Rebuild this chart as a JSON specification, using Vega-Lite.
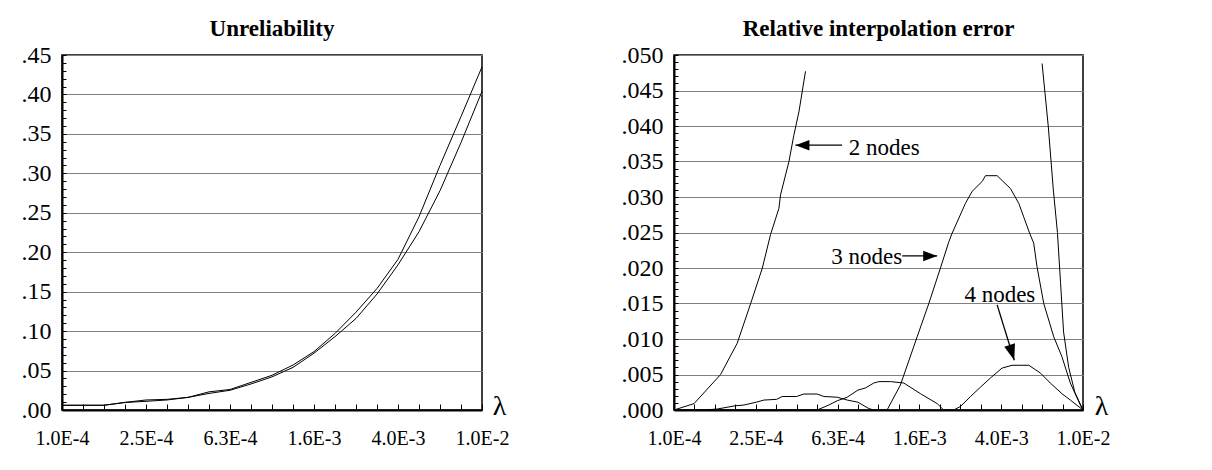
{
  "$schema": "https://vega.github.io/schema/vega-lite/v6.json",
  "background": "white",
  "padding": {"left": 20, "top": 17, "right": 5, "bottom": 5},
  "config": {
    "font": "Liberation Serif",
    "view": {"stroke": "black", "strokeWidth": 1.5},
    "axis": {
      "labelFont": "Liberation Serif", "labelFontSize": 20, "labelColor": "black",
      "domainColor": "black", "tickColor": "black", "titleColor": "black",
      "titleFont": "Liberation Serif", "labelOverlap": false, "labelBound": false
    },
    "title": {"font": "Liberation Serif", "fontSize": 23, "fontWeight": "bold", "color": "black", "frame": "group", "anchor": "middle", "offset": 2},
    "concat": {"spacing": 110}
  },
  "datasets": {
    "unrel": [
      {"x": 0.0001, "y": 0.006, "series": "a"}, {"x": 0.00012589, "y": 0.006, "series": "a"}, {"x": 0.00015849, "y": 0.006, "series": "a"},
      {"x": 0.00019953, "y": 0.0097, "series": "a"}, {"x": 0.00025119, "y": 0.0127, "series": "a"}, {"x": 0.00031623, "y": 0.0135, "series": "a"},
      {"x": 0.00039811, "y": 0.016, "series": "a"}, {"x": 0.00050119, "y": 0.023, "series": "a"}, {"x": 0.00063096, "y": 0.026, "series": "a"},
      {"x": 0.00079433, "y": 0.035, "series": "a"}, {"x": 0.001, "y": 0.044, "series": "a"}, {"x": 0.0012589, "y": 0.057, "series": "a"},
      {"x": 0.0015849, "y": 0.074, "series": "a"}, {"x": 0.0019953, "y": 0.097, "series": "a"}, {"x": 0.0025119, "y": 0.124, "series": "a"},
      {"x": 0.0031623, "y": 0.154, "series": "a"}, {"x": 0.0039811, "y": 0.191, "series": "a"}, {"x": 0.0050119, "y": 0.245, "series": "a"},
      {"x": 0.0063096, "y": 0.31, "series": "a"}, {"x": 0.0079433, "y": 0.372, "series": "a"}, {"x": 0.01, "y": 0.435, "series": "a"},
      {"x": 0.0001, "y": 0.006, "series": "b"}, {"x": 0.00012589, "y": 0.006, "series": "b"}, {"x": 0.00015849, "y": 0.006, "series": "b"},
      {"x": 0.00019953, "y": 0.0095, "series": "b"}, {"x": 0.00025119, "y": 0.011, "series": "b"}, {"x": 0.00031623, "y": 0.0127, "series": "b"},
      {"x": 0.00039811, "y": 0.016, "series": "b"}, {"x": 0.00050119, "y": 0.021, "series": "b"}, {"x": 0.00063096, "y": 0.025, "series": "b"},
      {"x": 0.00079433, "y": 0.033, "series": "b"}, {"x": 0.001, "y": 0.042, "series": "b"}, {"x": 0.0012589, "y": 0.054, "series": "b"},
      {"x": 0.0015849, "y": 0.072, "series": "b"}, {"x": 0.0019953, "y": 0.093, "series": "b"}, {"x": 0.0025119, "y": 0.116, "series": "b"},
      {"x": 0.0031623, "y": 0.147, "series": "b"}, {"x": 0.0039811, "y": 0.184, "series": "b"}, {"x": 0.0050119, "y": 0.226, "series": "b"},
      {"x": 0.0063096, "y": 0.278, "series": "b"}, {"x": 0.0079433, "y": 0.339, "series": "b"}, {"x": 0.01, "y": 0.404, "series": "b"}
    ],
    "err": [
      {"x": 0.0001, "y": 0, "curve": "2 nodes a"}, {"x": 0.0001253, "y": 0.0009, "curve": "2 nodes a"},
      {"x": 0.000169, "y": 0.005, "curve": "2 nodes a"}, {"x": 0.0002037, "y": 0.0094, "curve": "2 nodes a"},
      {"x": 0.0002371, "y": 0.015, "curve": "2 nodes a"}, {"x": 0.0002704, "y": 0.02, "curve": "2 nodes a"},
      {"x": 0.0002965, "y": 0.0247, "curve": "2 nodes a"}, {"x": 0.0003258, "y": 0.0284, "curve": "2 nodes a"},
      {"x": 0.0003319, "y": 0.0303, "curve": "2 nodes a"}, {"x": 0.0003648, "y": 0.035, "curve": "2 nodes a"},
      {"x": 0.0003855, "y": 0.0387, "curve": "2 nodes a"}, {"x": 0.0004083, "y": 0.042, "curve": "2 nodes a"},
      {"x": 0.0004395, "y": 0.0477, "curve": "2 nodes a"},
      {"x": 0.0063096, "y": 0.0488, "curve": "2 nodes b"}, {"x": 0.006761, "y": 0.04, "curve": "2 nodes b"},
      {"x": 0.007161, "y": 0.031, "curve": "2 nodes b"}, {"x": 0.007499, "y": 0.025, "curve": "2 nodes b"},
      {"x": 0.007762, "y": 0.018, "curve": "2 nodes b"}, {"x": 0.008035, "y": 0.011, "curve": "2 nodes b"},
      {"x": 0.008511, "y": 0.006, "curve": "2 nodes b"}, {"x": 0.00912, "y": 0.0025, "curve": "2 nodes b"},
      {"x": 0.01, "y": 0, "curve": "2 nodes b"},
      {"x": 0.0001, "y": 0, "curve": "3 nodes"}, {"x": 0.0001403, "y": 0, "curve": "3 nodes"},
      {"x": 0.0001629, "y": 0.00014, "curve": "3 nodes"}, {"x": 0.0002, "y": 0.0006, "curve": "3 nodes"},
      {"x": 0.0002198, "y": 0.0007, "curve": "3 nodes"}, {"x": 0.0002524, "y": 0.0011, "curve": "3 nodes"},
      {"x": 0.0002754, "y": 0.0014, "curve": "3 nodes"}, {"x": 0.0003177, "y": 0.0015, "curve": "3 nodes"},
      {"x": 0.0003381, "y": 0.0019, "curve": "3 nodes"}, {"x": 0.0003972, "y": 0.0019, "curve": "3 nodes"},
      {"x": 0.0004315, "y": 0.00225, "curve": "3 nodes"}, {"x": 0.0005012, "y": 0.00225, "curve": "3 nodes"},
      {"x": 0.0005408, "y": 0.0019, "curve": "3 nodes"}, {"x": 0.0006281, "y": 0.0018, "curve": "3 nodes"},
      {"x": 0.0007031, "y": 0.0014, "curve": "3 nodes"}, {"x": 0.0007925, "y": 0.0011, "curve": "3 nodes"},
      {"x": 0.0008974, "y": 0.0002, "curve": "3 nodes"}, {"x": 0.0009484, "y": 0, "curve": "3 nodes"},
      {"x": 0.0011015, "y": 0, "curve": "3 nodes"}, {"x": 0.001279, "y": 0.0035, "curve": "3 nodes"},
      {"x": 0.001545, "y": 0.0103, "curve": "3 nodes"}, {"x": 0.001762, "y": 0.015, "curve": "3 nodes"},
      {"x": 0.002009, "y": 0.02, "curve": "3 nodes"}, {"x": 0.002208, "y": 0.0237, "curve": "3 nodes"},
      {"x": 0.002291, "y": 0.0249, "curve": "3 nodes"}, {"x": 0.002661, "y": 0.0291, "curve": "3 nodes"},
      {"x": 0.002871, "y": 0.0308, "curve": "3 nodes"}, {"x": 0.003214, "y": 0.0322, "curve": "3 nodes"},
      {"x": 0.003334, "y": 0.033, "curve": "3 nodes"}, {"x": 0.003802, "y": 0.033, "curve": "3 nodes"},
      {"x": 0.004416, "y": 0.0312, "curve": "3 nodes"}, {"x": 0.004853, "y": 0.0291, "curve": "3 nodes"},
      {"x": 0.005129, "y": 0.0272, "curve": "3 nodes"}, {"x": 0.005483, "y": 0.0249, "curve": "3 nodes"},
      {"x": 0.005741, "y": 0.0235, "curve": "3 nodes"}, {"x": 0.005957, "y": 0.0202, "curve": "3 nodes"},
      {"x": 0.006427, "y": 0.015, "curve": "3 nodes"}, {"x": 0.007194, "y": 0.0103, "curve": "3 nodes"},
      {"x": 0.007889, "y": 0.0075, "curve": "3 nodes"}, {"x": 0.00867, "y": 0.0038, "curve": "3 nodes"},
      {"x": 0.009705, "y": 0.0007, "curve": "3 nodes"}, {"x": 0.01, "y": 0, "curve": "3 nodes"},
      {"x": 0.0001, "y": 0, "curve": "4 nodes"}, {"x": 0.0004477, "y": 0, "curve": "4 nodes"},
      {"x": 0.0005012, "y": 0, "curve": "4 nodes"}, {"x": 0.0005715, "y": 0.0007, "curve": "4 nodes"},
      {"x": 0.0006281, "y": 0.0013, "curve": "4 nodes"}, {"x": 0.0007031, "y": 0.0018, "curve": "4 nodes"},
      {"x": 0.0007925, "y": 0.0028, "curve": "4 nodes"}, {"x": 0.000863, "y": 0.0031, "curve": "4 nodes"},
      {"x": 0.0009484, "y": 0.0038, "curve": "4 nodes"}, {"x": 0.001005, "y": 0.004, "curve": "4 nodes"},
      {"x": 0.001146, "y": 0.004, "curve": "4 nodes"}, {"x": 0.00133, "y": 0.0038, "curve": "4 nodes"},
      {"x": 0.001603, "y": 0.0023, "curve": "4 nodes"}, {"x": 0.001936, "y": 0.0009, "curve": "4 nodes"},
      {"x": 0.002084, "y": 0, "curve": "4 nodes"}, {"x": 0.002333, "y": 0, "curve": "4 nodes"},
      {"x": 0.002518, "y": 0.0005, "curve": "4 nodes"}, {"x": 0.002818, "y": 0.0019, "curve": "4 nodes"},
      {"x": 0.003148, "y": 0.0032, "curve": "4 nodes"}, {"x": 0.003524, "y": 0.0045, "curve": "4 nodes"},
      {"x": 0.004018, "y": 0.0059, "curve": "4 nodes"}, {"x": 0.004498, "y": 0.0063, "curve": "4 nodes"},
      {"x": 0.005433, "y": 0.0063, "curve": "4 nodes"}, {"x": 0.006194, "y": 0.0052, "curve": "4 nodes"},
      {"x": 0.006918, "y": 0.0038, "curve": "4 nodes"}, {"x": 0.007889, "y": 0.0023, "curve": "4 nodes"},
      {"x": 0.00867, "y": 0.0014, "curve": "4 nodes"}, {"x": 0.01, "y": 0, "curve": "4 nodes"}
    ],
    "notes": [
      {"label": "2 nodes", "x": 0.0007161, "y": 0.0369},
      {"label": "3 nodes", "x": 0.0005875, "y": 0.0216},
      {"label": "4 nodes", "x": 0.00263, "y": 0.0162}
    ],
    "arrows": [
      {"x": 0.0006637, "y": 0.0373, "x2": 0.0003926, "y2": 0.0373},
      {"x": 0.001306, "y": 0.0217, "x2": 0.001936, "y2": 0.0217},
      {"x": 0.003802, "y": 0.0148, "x2": 0.004613, "y2": 0.007}
    ],
    "heads": [
      {"x": 0.0003926, "y": 0.0373, "dir": "left"},
      {"x": 0.001936, "y": 0.0217, "dir": "right"},
      {"x": 0.004613, "y": 0.007, "dir": "down"}
    ]
  },
  "hconcat": [
    {
      "width": 420, "height": 355,
      "title": "Unreliability",
      "data": {"name": "unrel"},
      "mark": {"type": "line", "color": "black", "strokeWidth": 1},
      "encoding": {
        "x": {
          "field": "x", "type": "quantitative",
          "scale": {"type": "log", "domain": [0.0001, 0.01], "nice": false},
          "axis": {
            "values": [0.0001, 0.00012589, 0.00015849, 0.00019953, 0.00025119, 0.00031623, 0.00039811, 0.00050119, 0.00063096, 0.00079433, 0.001, 0.0012589, 0.0015849, 0.0019953, 0.0025119, 0.0031623, 0.0039811, 0.0050119, 0.0063096, 0.0079433, 0.01],
            "labelExpr": "round((log(datum.value)/LN10 + 4) * 10) % 4 == 0 ? replace(format(datum.value, '.1e'), 'e', 'E') : ''",
            "tickSize": -6, "domainWidth": 2, "grid": false, "labelPadding": 24, "labelFlush": false, "labelOverlap": false,
            "title": "λ", "titleFontSize": 28, "titleFontWeight": "normal", "titleX": 437, "titleY": -4,
            "titleBaseline": "middle", "titleAlign": "center", "titleAngle": 0
          }
        },
        "y": {
          "field": "y", "type": "quantitative",
          "scale": {"domain": [0, 0.45], "nice": false},
          "axis": {
            "values": [0, 0.01, 0.02, 0.03, 0.04, 0.05, 0.06, 0.07, 0.08, 0.09, 0.1, 0.11, 0.12, 0.13, 0.14, 0.15, 0.16, 0.17, 0.18, 0.19, 0.2, 0.21, 0.22, 0.23, 0.24, 0.25, 0.26, 0.27, 0.28, 0.29, 0.3, 0.31, 0.32, 0.33, 0.34, 0.35, 0.36, 0.37, 0.38, 0.39, 0.4, 0.41, 0.42, 0.43, 0.44, 0.45],
            "labelExpr": "abs(datum.value * 20 - round(datum.value * 20)) < 0.001 ? substring(format(datum.value, '.2f'), 1) : ''",
            "tickSize": -4, "domainWidth": 2, "grid": true, "gridColor": "#808080", "labelFontSize": 24, "labelOverlap": false,
            "gridOpacity": {"condition": {"test": "abs(datum.value * 20 - round(datum.value * 20)) < 0.001", "value": 1}, "value": 0},
            "title": null, "labelPadding": 15
          }
        },
        "detail": {"field": "series"}
      }
    },
    {
      "width": 409, "height": 355,
      "title": "Relative interpolation error",
      "encoding": {
        "x": {
          "field": "x", "type": "quantitative",
          "scale": {"type": "log", "domain": [0.0001, 0.01], "nice": false},
          "axis": {
            "values": [0.0001, 0.00012589, 0.00015849, 0.00019953, 0.00025119, 0.00031623, 0.00039811, 0.00050119, 0.00063096, 0.00079433, 0.001, 0.0012589, 0.0015849, 0.0019953, 0.0025119, 0.0031623, 0.0039811, 0.0050119, 0.0063096, 0.0079433, 0.01],
            "labelExpr": "round((log(datum.value)/LN10 + 4) * 10) % 4 == 0 ? replace(format(datum.value, '.1e'), 'e', 'E') : ''",
            "tickSize": -6, "domainWidth": 2, "grid": false, "labelPadding": 24, "labelFlush": false, "labelOverlap": false,
            "title": "λ", "titleFontSize": 28, "titleFontWeight": "normal", "titleX": 427, "titleY": -4,
            "titleBaseline": "middle", "titleAlign": "center", "titleAngle": 0
          }
        },
        "y": {
          "field": "y", "type": "quantitative",
          "scale": {"domain": [0, 0.05], "nice": false},
          "axis": {
            "values": [0, 0.001, 0.002, 0.003, 0.004, 0.005, 0.006, 0.007, 0.008, 0.009, 0.01, 0.011, 0.012, 0.013, 0.014, 0.015, 0.016, 0.017, 0.018, 0.019, 0.02, 0.021, 0.022, 0.023, 0.024, 0.025, 0.026, 0.027, 0.028, 0.029, 0.03, 0.031, 0.032, 0.033, 0.034, 0.035, 0.036, 0.037, 0.038, 0.039, 0.04, 0.041, 0.042, 0.043, 0.044, 0.045, 0.046, 0.047, 0.048, 0.049, 0.05],
            "labelExpr": "abs(datum.value * 200 - round(datum.value * 200)) < 0.001 ? substring(format(datum.value, '.3f'), 1) : ''",
            "tickSize": -4, "domainWidth": 2, "grid": true, "gridColor": "#808080", "labelFontSize": 24, "labelOverlap": false,
            "gridOpacity": {"condition": {"test": "abs(datum.value * 200 - round(datum.value * 200)) < 0.001", "value": 1}, "value": 0},
            "title": null, "labelPadding": 15
          }
        }
      },
      "layer": [
        {
          "data": {"name": "err"},
          "mark": {"type": "line", "color": "black", "strokeWidth": 1},
          "encoding": {"detail": {"field": "curve"}}
        },
        {
          "data": {"name": "arrows"},
          "mark": {"type": "rule", "color": "black", "strokeWidth": 1.3},
          "encoding": {"x2": {"field": "x2"}, "y2": {"field": "y2"}}
        },
        {
          "data": {"name": "notes"},
          "mark": {"type": "text", "align": "left", "baseline": "middle", "fontSize": 23, "font": "Liberation Serif", "color": "black"},
          "encoding": {"text": {"field": "label"}}
        },
        {
          "data": {"name": "heads"},
          "transform": [{"filter": "datum.dir == 'left'"}],
          "mark": {"type": "point", "filled": true, "color": "black", "opacity": 1, "size": 196, "shape": "M0,0L2,-0.75L2,0.75Z"},
          "encoding": {}
        },
        {
          "data": {"name": "heads"},
          "transform": [{"filter": "datum.dir == 'right'"}],
          "mark": {"type": "point", "filled": true, "color": "black", "opacity": 1, "size": 196, "shape": "M0,0L-2,-0.75L-2,0.75Z"},
          "encoding": {}
        },
        {
          "data": {"name": "heads"},
          "transform": [{"filter": "datum.dir == 'down'"}],
          "mark": {"type": "point", "filled": true, "color": "black", "opacity": 1, "size": 256, "angle": 343, "shape": "M0,0L-0.7,-2L0.7,-2Z"},
          "encoding": {}
        }
      ]
    }
  ]
}
